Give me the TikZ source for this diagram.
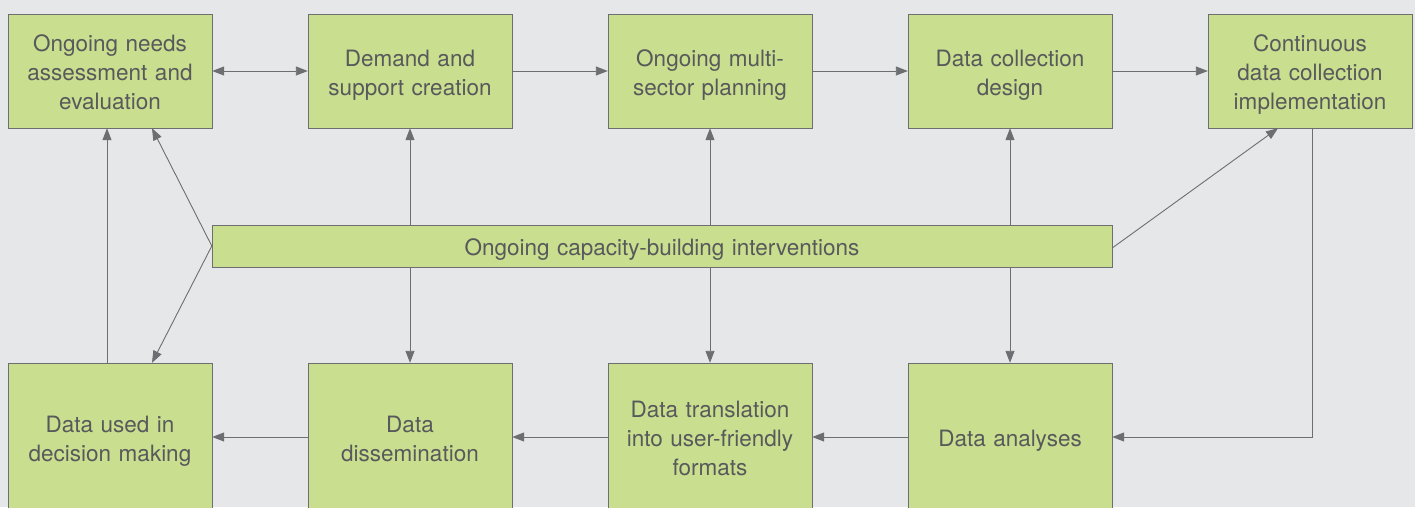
\documentclass[tikz,border=0pt]{standalone}
\usepackage{fontspec}
\setmainfont{TeX Gyre Heros}
\usetikzlibrary{arrows.meta}
\definecolor{bggray}{HTML}{E6E7E9}
\definecolor{boxgreen}{HTML}{C9DF8F}
\definecolor{linegray}{HTML}{6D6E71}
\definecolor{textgray}{HTML}{58595B}
\tikzset{
  stage/.style={draw=linegray, fill=boxgreen, text=textgray, align=center,
    minimum width=204pt, text width=198pt, inner sep=0pt,
    execute at begin node={\rule{0pt}{24pt}},
    execute at end node={\rule[-5pt]{0pt}{0pt}},
    font=\fontsize{22.5}{29}\selectfont},
  link/.style={draw=linegray, line width=0.9pt, -{Triangle[length=12pt,width=9pt]}}
}
\begin{document}
\begin{tikzpicture}[x=1pt,y=-1pt]
\clip (0,0) rectangle (1415,507);
\fill[bggray] (0,0) rectangle (1415,507);

% top row
\node[stage, minimum height=114pt] (needs) at (110,71) {Ongoing needs\\assessment and\\evaluation};
\node[stage, minimum height=114pt] (demand) at (410,71) {Demand and\\support creation};
\node[stage, minimum height=114pt] (plan) at (710,71) {Ongoing multi-\\sector planning};
\node[stage, minimum height=114pt] (design) at (1010,71) {Data collection\\design};
\node[stage, minimum height=114pt] (impl) at (1310,71) {Continuous\\data collection\\implementation};

% bottom row
\node[stage, minimum height=148pt] (used) at (110,437) {Data used in\\decision making};
\node[stage, minimum height=148pt] (dissem) at (410,437) {Data\\dissemination};
\node[stage, minimum height=148pt] (transl) at (710,437) {Data translation\\into user-friendly\\formats};
\node[stage, minimum height=148pt] (analyses) at (1010,437) {Data analyses};

% middle bar
\node[stage, minimum width=900pt, text width=890pt, minimum height=42pt] (capacity) at (662,246) {Ongoing capacity-building interventions};

\path[link, {Triangle[length=12pt,width=9pt]}-{Triangle[length=12pt,width=9pt]}] (needs) -- (demand);
\path[link] (demand) -- (plan);
\path[link] (plan) -- (design);
\path[link] (design) -- (impl);

\path[link] (analyses) -- (transl);
\path[link] (transl) -- (dissem);
\path[link] (dissem) -- (used);
\path[link] ([xshift=-3pt]used.north) -- ([xshift=-3pt]needs.south);
\path[link] ([xshift=2pt]impl.south) |- (analyses.east);

\path[link] (capacity.west) -- ([xshift=42pt]needs.south);
\path[link] (capacity.west) -- ([xshift=42pt]used.north);
\path[link] (capacity.north -| demand) -- (demand.south);
\path[link] (capacity.south -| demand) -- (dissem.north);
\path[link] (capacity.north -| plan) -- (plan.south);
\path[link] (capacity.south -| plan) -- (transl.north);
\path[link] (capacity.north -| design) -- (design.south);
\path[link] (capacity.south -| design) -- (analyses.north);
\path[link] ([yshift=-2pt]capacity.east) -- ([xshift=-32pt]impl.south);
\end{tikzpicture}
\end{document}
